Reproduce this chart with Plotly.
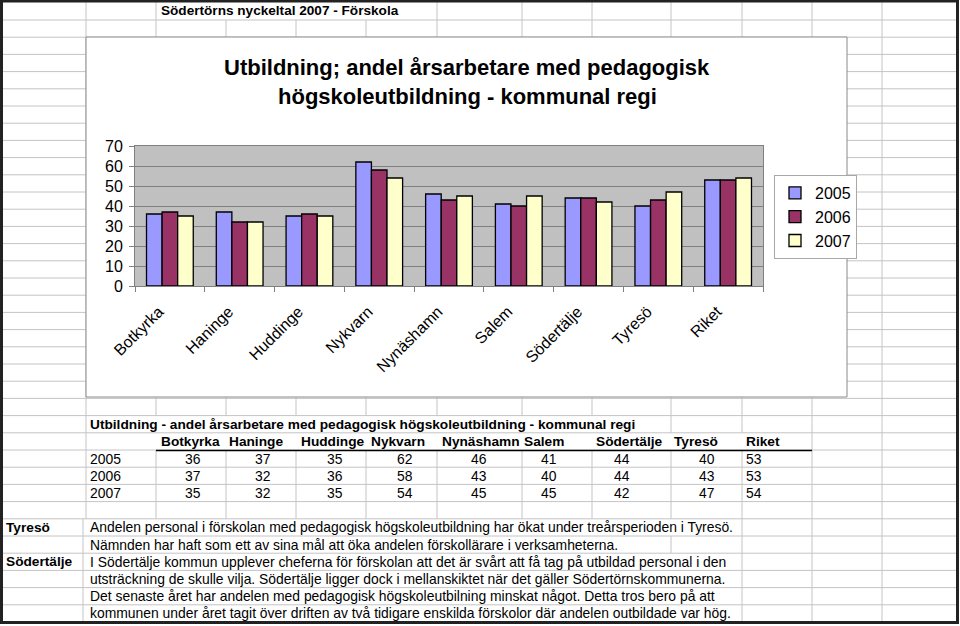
import plotly.graph_objects as go

# ---------------- data ----------------
categories = ["Botkyrka", "Haninge", "Huddinge", "Nykvarn", "Nynäshamn",
              "Salem", "Södertälje", "Tyresö", "Riket"]
years = ["2005", "2006", "2007"]
values_2005 = [36, 37, 35, 62, 46, 41, 44, 40, 53]
values_2006 = [37, 32, 36, 58, 43, 40, 44, 43, 53]
values_2007 = [35, 32, 35, 54, 45, 45, 42, 47, 54]
y_tick_values = [0, 10, 20, 30, 40, 50, 60, 70]

sheet_title = "Södertörns nyckeltal 2007 - Förskola"
chart_title_lines = ["Utbildning; andel årsarbetare med pedagogisk",
                     "högskoleutbildning - kommunal regi"]
table_title = "Utbildning - andel årsarbetare med pedagogisk högskoleutbildning - kommunal regi"
comment_labels = ["Tyresö", "", "Södertälje", "", "", ""]
comment_lines = [
    "Andelen personal i förskolan med pedagogisk högskoleutbildning har ökat under treårsperioden i Tyresö.",
    "Nämnden har haft som ett av sina mål att öka andelen förskollärare i verksamheterna.",
    "I Södertälje kommun upplever cheferna för förskolan att det är svårt att få tag på utbildad personal i den",
    "utsträckning de skulle vilja. Södertälje ligger dock i mellanskiktet när det gäller Södertörnskommunerna.",
    "Det senaste året har andelen med pedagogisk högskoleutbilning minskat något. Detta tros bero på att",
    "kommunen under året tagit över driften av två tidigare enskilda förskolor där andelen outbildade var hög.",
]

# ---------------- layout helpers ----------------
W, H = 960, 626
FONT = "Arial, Liberation Sans, sans-serif"
series_colors = ["#9999ff", "#993366", "#ffffcc"]
GRID = "#c4c4c4"
TXT = 13.9
BTXT = 13.7


def px(x):
    return x / W


def py(y):
    return 1 - y / H


col_edges = [86, 156, 226, 296, 366, 437, 522, 592, 671, 742, 812, 882]
row_lines = [2] + [20 + 17.2 * k for k in range(36)]

# text-overflow regions that hide vertical grid lines: (row index, x_from, x_to)
comment_ends = [733, 630, 725, 733, 680, 733]
hidden = [(0, 158, 405), (24, 150, 650), (25, 150, 800)]
for i, e in enumerate(comment_ends):
    hidden.append((30 + i, 84, e))

shapes = []


def line(x0, y0, x1, y1, color=GRID, width=1):
    shapes.append(dict(type="line", xref="paper", yref="paper",
                       x0=px(x0), y0=py(y0), x1=px(x1), y1=py(y1),
                       line=dict(color=color, width=width), layer="below"))


# horizontal grid
for y in row_lines[1:]:
    line(3, y, 957, y)

# vertical grid (merged runs)
nrows = len(row_lines) - 1
for x in col_edges:
    run_start = None
    for r in range(nrows):
        vis = True
        for (ri, a, b) in hidden:
            if ri == r and a < x < b:
                vis = False
        if r >= 30 and x == 86:
            vis = False
        if vis and run_start is None:
            run_start = row_lines[r]
        if not vis and run_start is not None:
            line(x, run_start, x, row_lines[r])
            run_start = None
    if run_start is not None:
        line(x, run_start, x, row_lines[-1])
# label column border in comment area
line(83, row_lines[30], 83, row_lines[-1])

# chart object box
shapes.append(dict(type="rect", xref="paper", yref="paper",
                   x0=px(86), x1=px(847), y0=py(397), y1=py(37),
                   fillcolor="white", line=dict(color="#8a8a8a", width=1), layer="below"))
# plot area background
shapes.append(dict(type="rect", xref="x domain", yref="y domain",
                   x0=0, x1=1, y0=0, y1=1, fillcolor="#c0c0c0",
                   line=dict(width=0), layer="below"))
# header underline of table
line(156, 450.5, 812, 450.5, color="black", width=1.5)
# outer sheet border
shapes.append(dict(type="rect", xref="paper", yref="paper",
                   x0=px(1.5), x1=px(957.5), y0=py(622.5), y1=py(1),
                   fillcolor="rgba(0,0,0,0)", line=dict(color="#222222", width=3), layer="above"))

# ---------------- annotations ----------------
ann = []


def text(x, y, s, size=TXT, bold=False, anchor="left"):
    ann.append(dict(xref="paper", yref="paper", x=px(x), y=py(y),
                    text=f"<b>{s}</b>" if bold else s, showarrow=False,
                    xanchor=anchor, yanchor="middle",
                    font=dict(family=FONT, size=size, color="black")))


text(159, 11, sheet_title, size=13.6, bold=True)
text(467, 68, chart_title_lines[0], size=22, bold=True, anchor="center")
text(467, 96, chart_title_lines[1], size=22, bold=True, anchor="center")

row_center = [(row_lines[i] + row_lines[i + 1]) / 2 for i in range(nrows)]
text(88, row_center[24], table_title, size=BTXT, bold=True)
header_x = [159, 227, 299, 369, 440, 522, 594, 672, 744]
value_x = [193, 263, 335, 405, 479, 549, 622, 707, 744]
for c, name in enumerate(categories):
    text(header_x[c], row_center[25], name, size=BTXT, bold=True)
series = [values_2005, values_2006, values_2007]
for r, yr in enumerate(years):
    yc = row_center[26 + r]
    text(88, yc, yr)
    for c in range(len(categories)):
        if c == len(categories) - 1:
            text(value_x[c], yc, str(series[r][c]))
        else:
            text(value_x[c], yc, str(series[r][c]), anchor="center")

for i, (lab, s) in enumerate(zip(comment_labels, comment_lines)):
    yc = row_center[30 + i]
    if lab:
        text(4, yc, lab, size=BTXT, bold=True)
    text(88, yc, s)

# ---------------- chart ----------------
fig = go.Figure()
for yr, vals, col in zip(years, series, series_colors):
    fig.add_trace(go.Bar(x=categories, y=vals, name=yr,
                         marker=dict(color=col, line=dict(color="black", width=1.3))))

fig.update_layout(
    width=W, height=H, autosize=False,
    margin=dict(l=0, r=0, t=0, b=0, pad=0, autoexpand=False),
    paper_bgcolor="white", plot_bgcolor="rgba(0,0,0,0)",
    barmode="group", bargap=0.33, bargroupgap=0,
    font=dict(family=FONT, size=16, color="black"),
    shapes=shapes, annotations=ann,
    showlegend=True,
    legend=dict(x=px(774), y=py(175), xanchor="left", yanchor="top",
                bgcolor="white", bordercolor="#a8a8a8", borderwidth=1,
                font=dict(family=FONT, size=16, color="black"),
                itemwidth=30, tracegroupgap=0,
                entrywidth=60, entrywidthmode="pixels"),
    xaxis=dict(domain=[px(135), px(763)], type="category", automargin=False,
               showline=True, linecolor="#808080", mirror=True,
               ticks="outside", tickson="boundaries", ticklen=5, tickcolor="#808080",
               tickangle=-45, tickfont=dict(family=FONT, size=16, color="black"),
               ticklabelstandoff=9, ticklabelshift=-11, showgrid=False, fixedrange=True),
    yaxis=dict(domain=[py(286), py(146)], range=[0, 70], tickvals=y_tick_values,
               automargin=False,
               showgrid=True, gridcolor="#808080", gridwidth=1, zeroline=False,
               showline=True, linecolor="#808080", mirror=True,
               ticks="outside", ticklen=5, tickcolor="#808080",
               tickfont=dict(family=FONT, size=16, color="black"),
               ticklabelstandoff=3, fixedrange=True),
)

fig.write_html(
    "out.html",
    config={"displayModeBar": False},
    post_script="document.body.style.margin='0px';document.body.style.overflow='hidden';",
)
